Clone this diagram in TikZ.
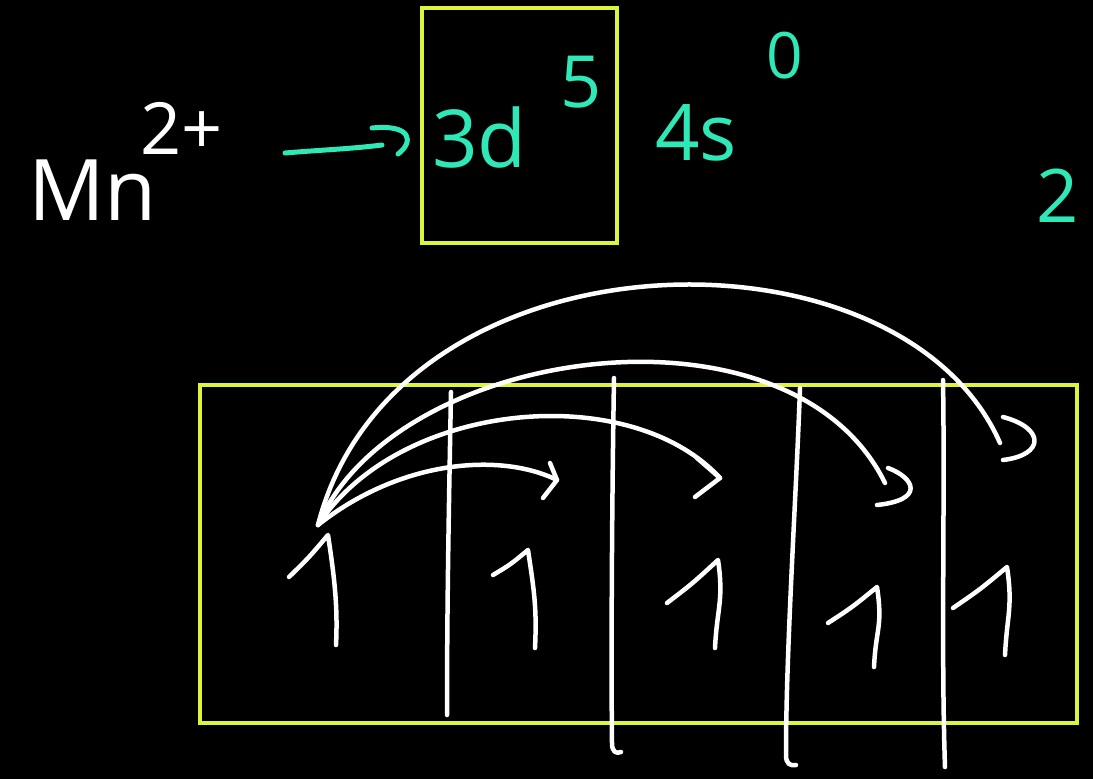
\documentclass[tikz,border=0pt]{standalone}
\usepackage{fontspec}
\newfontfamily\hand{Open Sans}
\definecolor{cy}{RGB}{46,232,184}
\definecolor{yl}{RGB}{222,244,58}
\tikzset{
  ink/.style={draw=white,line width=4.5pt,line cap=round,line join=round},
  cyink/.style={draw=cy,line width=5pt,line cap=round,line join=round},
  ybox/.style={draw=yl,line width=4pt},
  wtxt/.style={text=white,inner sep=0pt,anchor=base west},
  ctxt/.style={text=cy,inner sep=0pt,anchor=base west}
}
\begin{document}
\begin{tikzpicture}[x=1pt,y=-1pt]
\fill[black] (0,0) rectangle (1093,779);
\useasboundingbox (0,0) rectangle (1093,779);

% top line
\node[wtxt,font=\hand\fontsize{85}{85}\selectfont] (mn) at (28,220) {Mn};
\node[wtxt,font=\hand\fontsize{72}{72}\selectfont] (chg) at (140,154) {2+};
\coordinate (arS) at (285,153);
\coordinate (arE) at (382,145);
\draw[cyink] (arS) .. controls (320,150) and (350,149) .. (arE);
\draw[cyink] (372,128) .. controls (412,124) and (414,142) .. (398,154);

\node[ybox,minimum width=195pt,minimum height=235pt,inner sep=0pt] (box1) at (519.5,125.5) {};
\node[ctxt,font=\hand\fontsize{80}{80}\selectfont] (td) at (432,167) {3d};
\node[ctxt,font=\hand\fontsize{72}{72}\selectfont] (five) at (560,107) {5};
\node[ctxt,font=\hand\fontsize{78}{78}\selectfont] (fs) at (655,160) {4s};
\node[ctxt,font=\hand\fontsize{64}{64}\selectfont] (zero) at (766,78) {0};
\node[ctxt,font=\hand\fontsize{74}{74}\selectfont] (two) at (1036,222) {2};

% big box
\node[ybox,minimum width=877pt,minimum height=338pt,inner sep=0pt] (box2) at (638.5,554) {};

% vertical separators
\draw[ink] (451,392) .. controls (449,500) and (447,600) .. (447,715);
\draw[ink] (614,378) .. controls (612,500) and (611,650) .. (612,743) .. controls (612,752) and (616,754) .. (621,752);
\draw[ink] (800,388) .. controls (796,500) and (786,650) .. (786,755) .. controls (786,764) and (790,766) .. (796,765);
\draw[ink] (943,380) .. controls (945,500) and (941,650) .. (945,767);

% up half-arrows
\foreach \n/\tx/\ty/\bx/\by/\lx/\ly in {a/328/535/336/645/289/577, b/528/550/535/648/493/575, c/718/560/715/648/667/603, d/877/587/874/667/828/623, e/1007/567/1005/655/953/608}{
  \coordinate (up\n) at (\tx,\ty);
  \draw[ink] (\lx,\ly) .. controls ({(\lx+\tx)/2},{(\ly+\ty)/2+2}) .. (up\n) .. controls ({\tx+6},{\ty+40}) and ({\bx+2},{\by-40}) .. (\bx,\by);
}

% curved arrows
\coordinate (src) at (318,525);
\coordinate (e1) at (557,480);
\coordinate (e2) at (720,478);
\coordinate (e3) at (885,483);
\coordinate (e4) at (1000,443);
\draw[ink] (src) .. controls (400,460) and (500,452) .. (e1);
\draw[ink] (550,463) -- (e1) -- (543,498);
\draw[ink] (src) .. controls (400,400) and (630,380) .. (e2);
\draw[ink] (697,458) -- (e2) -- (695,497);
\draw[ink] (src) .. controls (395,345) and (790,290) .. (e3);
\draw[ink] (888,468) .. controls (915,478) and (925,500) .. (877,505);
\draw[ink] (src) .. controls (395,225) and (900,215) .. (e4);
\draw[ink] (1003,417) .. controls (1045,428) and (1045,455) .. (1003,460);
\end{tikzpicture}
\end{document}
